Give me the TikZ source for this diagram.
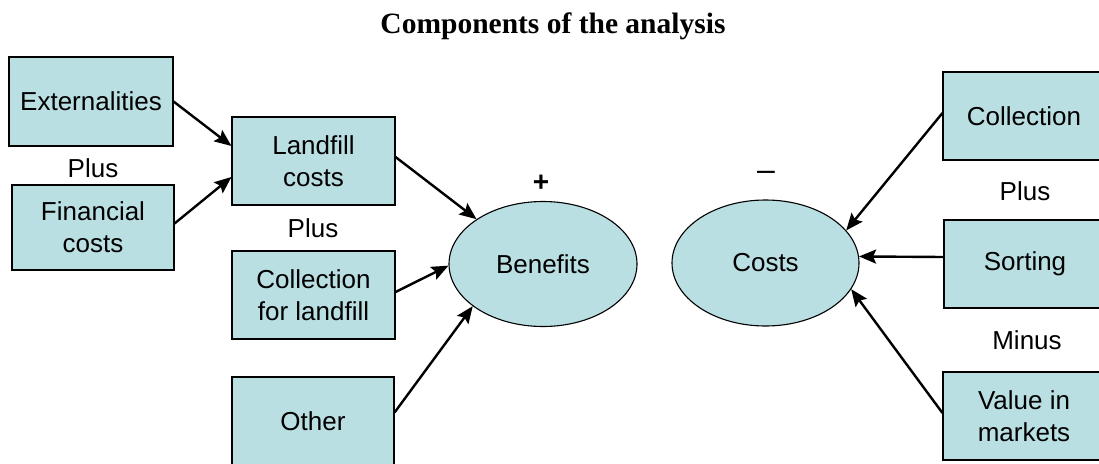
\documentclass[tikz,border=0pt]{standalone}
\usepackage{fontspec}
\setmainfont{Liberation Sans}
\newfontfamily\titlefont{Liberation Serif}
\usetikzlibrary{shapes.geometric,arrows.meta}
\definecolor{boxfill}{RGB}{186,223,227}
\tikzset{
  boxnode/.style={draw=black,line width=1.1pt,fill=boxfill,minimum width=163pt,minimum height=88pt,inner sep=0pt,align=center,font=\fontsize{26}{32}\selectfont},
  ellnode/.style={ellipse,draw=black,line width=1.1pt,fill=boxfill,minimum width=188pt,minimum height=125pt,inner sep=0pt,font=\fontsize{26}{32}\selectfont},
  lbl/.style={inner sep=0pt,font=\fontsize{26}{32}\selectfont},
  conn/.style={line width=2.4pt,-{Stealth[length=17pt,width=14pt,inset=3pt]}}
}
\begin{document}
\begin{tikzpicture}[x=1pt,y=-1pt]
\useasboundingbox (0,0) rectangle (1099,463);
\node[inner sep=0pt,font=\titlefont\bfseries\fontsize{29.5}{34}\selectfont] (title) at (553,26) {Components of the analysis};
% left boxes
\node[boxnode,minimum width=164pt,minimum height=89pt] (ext) at (91,101.5) {Externalities};
\node[boxnode,minimum width=162pt,minimum height=85pt] (fin) at (93,227.5) {Financial\\costs};
\node[boxnode] (land) at (313.5,161) {Landfill\\costs};
\node[boxnode] (cfl) at (313.5,295) {Collection\\for landfill};
\node[boxnode,minimum width=162pt,minimum height=89pt] (oth) at (313,421.5) {Other};
% ellipses
\node[ellnode] (ben) at (543,264) {Benefits};
\node[ellnode,minimum width=187pt,minimum height=126pt] (cst) at (765.5,263) {Costs};
% right boxes
\node[boxnode,minimum width=162pt] (col) at (1024,116) {Collection};
\node[boxnode,minimum width=162pt] (sort) at (1025,264) {Sorting};
\node[boxnode,minimum width=162pt] (val) at (1024,416) {Value in\\markets};
% labels
\node[lbl] (plus1) at (93,168) {Plus};
\node[lbl] (plus2) at (313,228) {Plus};
\node[lbl,font=\bfseries\fontsize{28}{32}\selectfont] (pl) at (541,183) {+};
\node[lbl,font=\fontsize{32}{36}\selectfont] (mi) at (766,176) {–};
\node[lbl] (plus3) at (1025,191) {Plus};
\node[lbl] (minus) at (1027,340) {Minus};
% connectors
\draw[conn] (ext.east) -- ([yshift=15pt]land.west);
\draw[conn] ([yshift=4pt]fin.east) -- ([yshift=-16pt]land.west);
\draw[conn] ([yshift=4pt]land.east) -- (ben.146);
\draw[conn] ([yshift=3pt]cfl.east) -- (ben.181);
\draw[conn] ([yshift=9pt]oth.east) -- (ben.211);
\draw[conn] ([yshift=3pt]col.west) -- (cst.22);
\draw[conn] ([yshift=7pt]sort.west) -- (cst.4);
\draw[conn] ([yshift=3pt]val.west) -- (cst.-17);
\end{tikzpicture}
\end{document}
